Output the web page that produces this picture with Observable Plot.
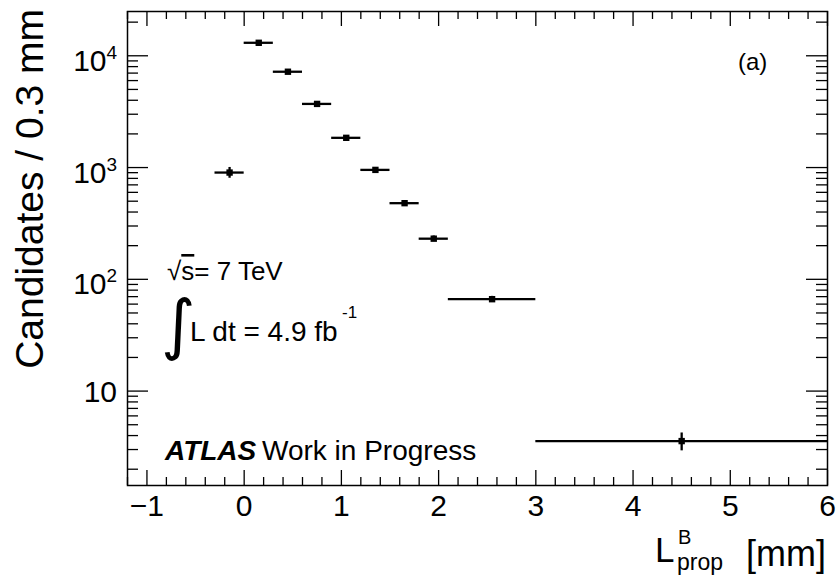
<!DOCTYPE html>
<html><head><meta charset="utf-8">
<script src="https://cdn.jsdelivr.net/npm/d3@7"></script>
<script src="https://cdn.jsdelivr.net/npm/@observablehq/plot@0.6"></script>
<style>body{margin:0;background:#fff} svg{display:block}</style>
</head><body><div id="chart"></div>
<script>
// ---- data ----
const binLow     = [-0.3, 0.0, 0.3, 0.6, 0.9, 1.2, 1.5, 1.8, 2.1, 3.0];
const binHigh    = [ 0.0, 0.3, 0.6, 0.9, 1.2, 1.5, 1.8, 2.1, 3.0, 6.0];
const candidates = [902, 13070, 7200, 3710, 1845, 953, 480, 231, 66.4, 3.57];
const errors     = [100, 400, 250, 120, 60, 35, 22, 13, 4, 0.65];

const xTickValues = [-1, 0, 1, 2, 3, 4, 5, 6];
const xTickLabels = ["\u22121", "0", "1", "2", "3", "4", "5", "6"];
const yTickValues = [10, 100, 1000, 10000];
const yTickBase   = ["10", "10", "10", "10"];
const yTickExp    = ["", "2", "3", "4"];

const data = binLow.map((lo, i) => ({
  lo, hi: binHigh[i], x: (lo + binHigh[i]) / 2, y: candidates[i], err: errors[i]
}));

const W = 836, H = 578, mL = 127, mR = 9, mT = 11, mB = 93;
const plotW = W - mL - mR, plotH = H - mT - mB;
const FONT = "'Liberation Sans', Arial, Helvetica, sans-serif";

const xDomain = [-1.2, 6];
const yDomain = [1.43, 24900];
const xMinor = d3.range(-6, 31).map(i => +(i * 0.2).toFixed(2)).filter(v => !Number.isInteger(v));
const yMinor = [];
[1, 10, 100, 1000, 10000].forEach(dec => { for (let k = 2; k <= 9; k++) { const v = k * dec; if (v > yDomain[0] && v < yDomain[1]) yMinor.push(v); } });

const yExpTicks = yTickValues.map((v, i) => ({v, base: yTickBase[i], exp: yTickExp[i]}));

const tickStroke = {stroke: "black", strokeWidth: 1.3};

const svg = Plot.plot({
  width: W, height: H,
  marginLeft: mL, marginRight: mR, marginTop: mT, marginBottom: mB,
  style: {fontFamily: FONT, background: "white", color: "black", overflow: "visible"},
  x: {domain: xDomain, axis: null},
  y: {type: "log", domain: yDomain, axis: null},
  marks: [
    // x ticks: bottom and top
    Plot.ruleX(xTickValues, {x: d => d, insetTop: plotH - 15, ...tickStroke}),
    Plot.ruleX(xTickValues, {x: d => d, insetBottom: plotH - 15, ...tickStroke}),
    Plot.ruleX(xMinor, {x: d => d, insetTop: plotH - 8, ...tickStroke}),
    Plot.ruleX(xMinor, {x: d => d, insetBottom: plotH - 8, ...tickStroke}),
    // y ticks: left and right
    Plot.ruleY(yTickValues, {y: d => d, insetRight: plotW - 21, ...tickStroke}),
    Plot.ruleY(yTickValues, {y: d => d, insetLeft: plotW - 21, ...tickStroke}),
    Plot.ruleY(yMinor, {y: d => d, insetRight: plotW - 11, ...tickStroke}),
    Plot.ruleY(yMinor, {y: d => d, insetLeft: plotW - 11, ...tickStroke}),
    // data: horizontal bin widths, vertical errors, markers
    Plot.ruleY(data, {x1: "lo", x2: "hi", y: "y", stroke: "black", strokeWidth: 2.3}),
    Plot.ruleX(data, {x: "x", y1: d => d.y - d.err, y2: d => d.y + d.err, stroke: "black", strokeWidth: 2.3}),
    Plot.dot(data, {x: "x", y: "y", symbol: "square", r: 3.6, fill: "black", stroke: "none"}),
    Plot.frame({stroke: "black", strokeWidth: 1.5}),
    // x tick labels
    Plot.text(xTickValues, {x: d => d, text: (d, i) => xTickLabels[i], frameAnchor: "bottom",
      lineAnchor: "bottom", dy: 30, fontSize: 30, fill: "black", fontFamily: FONT}),
    // y tick labels with exponent
    Plot.text(yExpTicks.filter(d => d.exp), {y: "v", text: "base", frameAnchor: "left", textAnchor: "end",
      lineAnchor: "bottom", dx: -21, dy: 15, fontSize: 30, fill: "black", fontFamily: FONT}),
    Plot.text(yExpTicks.filter(d => d.exp), {y: "v", text: "exp", frameAnchor: "left", textAnchor: "end",
      lineAnchor: "bottom", dx: -10.5, dy: 3, fontSize: 19, fill: "black", fontFamily: FONT}),
    Plot.text(yExpTicks.filter(d => !d.exp), {y: "v", text: "base", frameAnchor: "left", textAnchor: "end",
      lineAnchor: "bottom", dx: -10.5, dy: 11, fontSize: 30, fill: "black", fontFamily: FONT})
  ]
});

const s = d3.select(svg);
const txt = (x, y, str, size, opts = {}) => {
  const t = s.append("text").attr("x", x).attr("y", y).attr("font-size", size)
    .attr("font-family", FONT).attr("fill", "black").attr("text-anchor", "start").text(str);
  Object.entries(opts).forEach(([k, v]) => t.attr(k, v));
  return t;
};

// y title
s.append("text").attr("transform", "translate(43,9) rotate(-90)").attr("text-anchor", "end")
  .attr("font-size", 39).attr("font-family", FONT).attr("fill", "black").text("Candidates / 0.3 mm");

// x title: L^B_prop [mm]
txt(655, 562, "L", 35);
txt(678, 544, "B", 20);
txt(677, 570, "prop", 23);
txt(826, 566, "[mm]", 36, {"text-anchor": "end"});

// (a)
txt(738, 70, "(a)", 24);

// sqrt(s) = 7 TeV
const t1 = txt(167, 280, "", 26);
t1.append("tspan").text("\u221A");
t1.append("tspan").attr("text-decoration", "overline").text("s");
t1.append("tspan").text("= 7 TeV");

// integral L dt = 4.9 fb^-1
txt(161, 347, "\u222B", 66, {"font-family": "'DejaVu Sans', sans-serif"});
txt(190, 341, "L dt = 4.9 fb", 28);
txt(342, 318, "-1", 17);

// ATLAS Work in Progress
txt(165, 460, "ATLAS", 28, {"font-weight": "bold", "font-style": "italic"});
txt(262, 460, "Work in Progress", 28);

document.getElementById("chart").appendChild(svg);
</script>
</body></html>
